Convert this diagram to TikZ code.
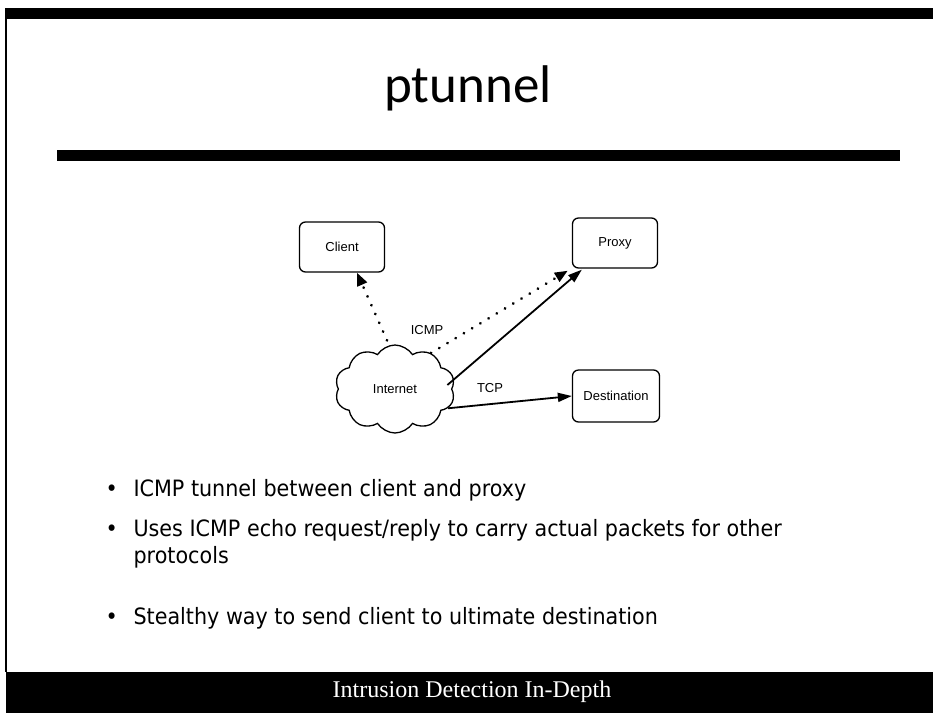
\documentclass[tikz,border=0pt]{standalone}
\usepackage{fontspec}
\setmainfont{DejaVu Sans}[FakeStretch=0.92]
\newfontfamily\titlefont{Carlito}
\newfontfamily\boxfont{Liberation Sans}
\newfontfamily\footfont{Liberation Serif}
\usetikzlibrary{arrows.meta,shapes.symbols}

\newcommand{\itemdot}{\makebox[30pt][l]{\hspace{2pt}\textbullet}}
\newcommand{\itemgap}{\makebox[30pt][l]{}}

\tikzset{
  hostbox/.style={draw, line width=1.3pt, rounded corners=6pt, minimum width=85pt,
                  minimum height=50pt, font=\boxfont\fontsize{13}{15}\selectfont},
  tunnel/.style={line width=3pt, dash pattern=on 0.1pt off 9.5pt, line cap=round,
                 -{Triangle[length=13pt,width=10pt]}},
  link/.style={line width=1.8pt, -{Triangle[length=14pt,width=9pt]}},
  proto/.style={font=\boxfont\fontsize{13}{15}\selectfont},
  bullet/.style={anchor=west, font=\fontsize{22.5}{27}\selectfont, align=left}
}

\begin{document}
\begin{tikzpicture}[x=1pt, y=-1pt]
        \useasboundingbox (0,0) rectangle (933,713);
        % Balken oben, Rand links
        \fill (5,8) rectangle (933,19);
        \draw[line width=1.5pt] (6,19) -- (6,672);
        \node (title) at (468,88) {\titlefont\fontsize{53}{60}\selectfont ptunnel};
        \fill (57,150) rectangle (900,161);

        % Rechner und Internet
        \node[hostbox] (client) at (342,247) {Client};
        \node[hostbox] (proxy) at (615,243) {Proxy};
        \node[hostbox, minimum width=87pt, minimum height=52pt] (dest) at (616,396) {Destination};
        \node[cloud, draw, line width=1.3pt, cloud puffs=10, cloud puff arc=115,
              minimum width=120pt, minimum height=88pt,
              font=\boxfont\fontsize{13}{15}\selectfont] (inet) at (395,389) {Internet};

        % ICMP-Tunnel und TCP
        \draw[tunnel] (inet.north) ++(-8,-4) -- ([xshift=15pt]client.south);
        \draw[tunnel] (inet.45) -- ([xshift=-4pt,yshift=-2pt]proxy.south west);
        \draw[link] (inet.east) ++(-5,-4) -- ([xshift=10pt,yshift=-1pt]proxy.south west);
        \draw[link] (inet.-20) -- (dest.west);
        \node[proto] (icmp) at (427,330) {ICMP};
        \node[proto] (tcp) at (490,388) {TCP};

        % Aufzaehlung
        \node[bullet] (b1) at (100,490) {\itemdot ICMP tunnel between client and proxy};
        \node[bullet] (b2) at (100,544) {\itemdot Uses ICMP echo request/reply to carry actual packets for other\\
              \itemgap protocols};
        \node[bullet] (b3) at (100,618) {\itemdot Stealthy way to send client to ultimate destination};

        % Fusszeile
        \fill (6,672) rectangle (933,713);
        \node[text=white] (foot) at (472,692) {\footfont\fontsize{24}{28}\selectfont Intrusion Detection In-Depth};
    \end{tikzpicture}
\end{document}
